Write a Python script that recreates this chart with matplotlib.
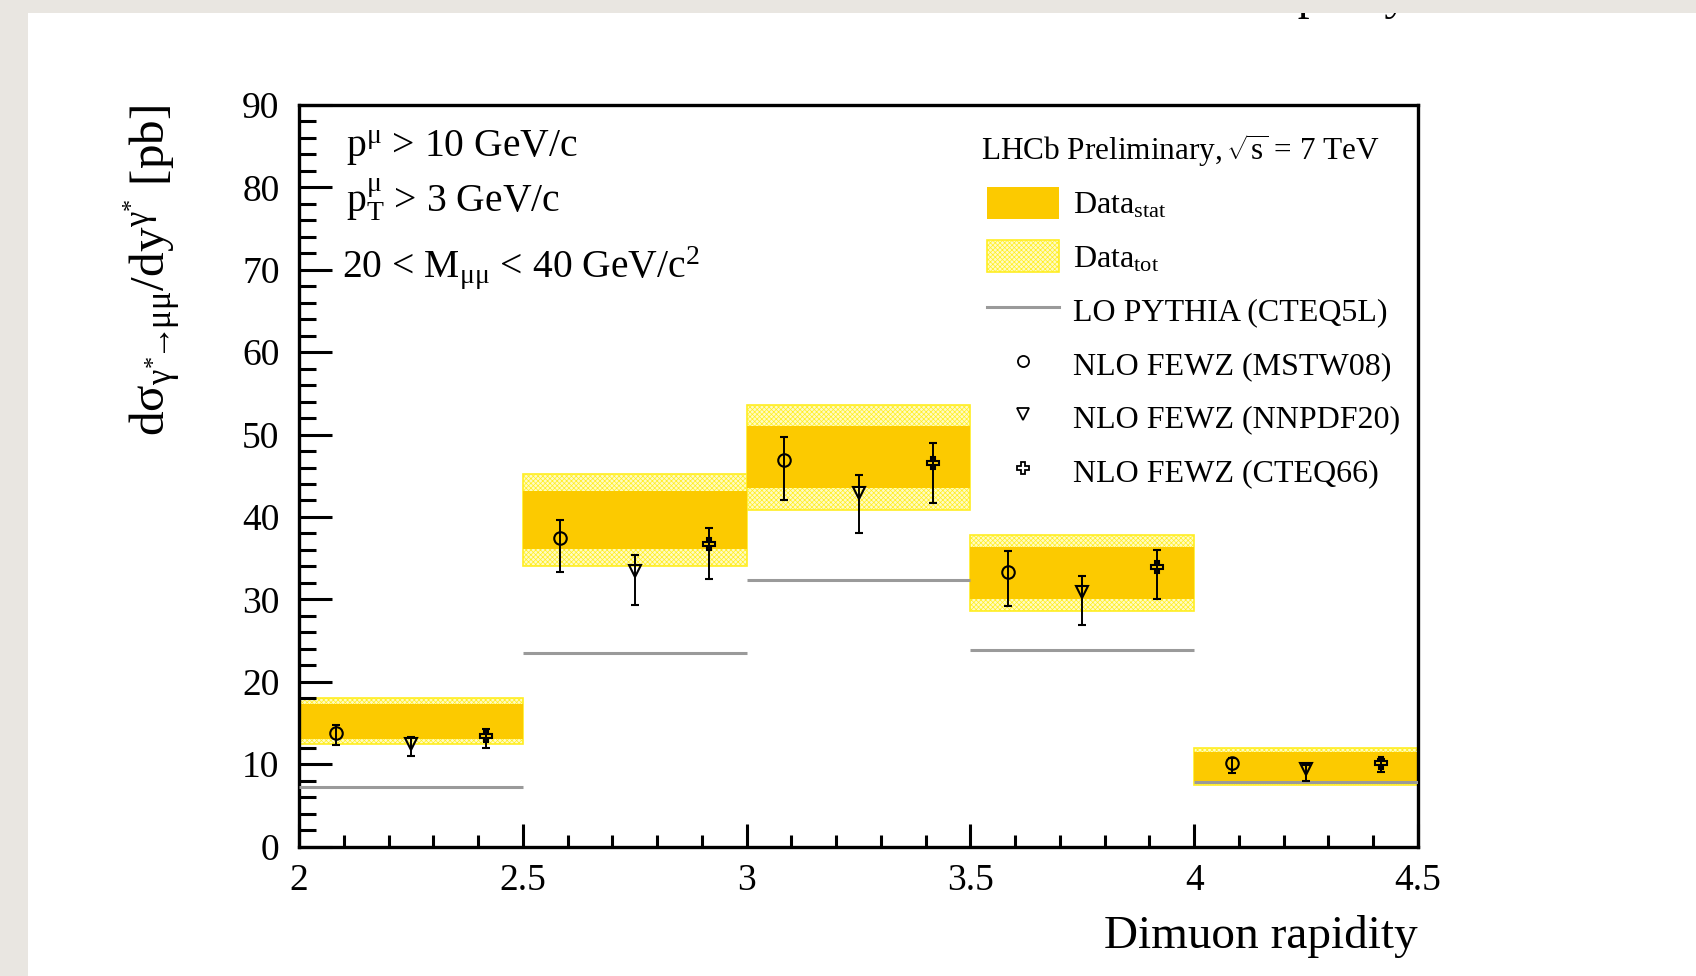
import numpy as np
import matplotlib
matplotlib.use("Agg")
import matplotlib.pyplot as plt
from matplotlib.patches import Patch, Rectangle
from matplotlib.lines import Line2D
from matplotlib.ticker import MultipleLocator, FuncFormatter

plt.rcParams['font.family'] = ['Liberation Serif', 'DejaVu Serif']
plt.rcParams['mathtext.fontset'] = 'custom'
plt.rcParams['mathtext.rm'] = 'Liberation Serif'
plt.rcParams['mathtext.it'] = 'Liberation Serif:italic'
plt.rcParams['mathtext.default'] = 'regular'
plt.rcParams['hatch.linewidth'] = 0.5

# rapidity bins
bin_lo = np.array([2.0, 2.5, 3.0, 3.5, 4.0])
bin_w = 0.5

# measured cross-section (pb) with stat and total uncertainties
data = np.array([15.2, 39.6, 47.25, 33.2, 9.7])
stat_err = np.array([2.1, 3.5, 3.75, 3.1, 1.8])
tot_err = np.array([2.8, 5.6, 6.35, 4.6, 2.2])

# LO PYTHIA (CTEQ5L)
lo_pythia = np.array([7.2, 23.5, 32.3, 23.9, 7.8])

# NLO FEWZ predictions: value, +err, -err
mstw = np.array([13.8, 37.4, 46.9, 33.3, 10.1])
mstw_up = np.array([1.0, 2.2, 2.8, 2.6, 0.7])
mstw_dn = np.array([1.5, 4.1, 4.8, 4.1, 1.2])

nnpdf = np.array([12.5, 33.4, 42.9, 30.9, 9.4])
nnpdf_up = np.array([0.8, 2.0, 2.2, 1.9, 0.5])
nnpdf_dn = np.array([1.5, 4.1, 4.9, 4.0, 1.4])

cteq = np.array([13.4, 36.7, 46.5, 33.9, 10.1])
cteq_up = np.array([0.9, 1.9, 2.5, 2.1, 0.5])
cteq_dn = np.array([1.5, 4.2, 4.8, 3.8, 1.1])

STAT_COLOR = '#fcca00'
TOT_FACE = '#fffbc4'
TOT_EDGE = '#ffee22'
TOT_HATCH = 'xxxxxxx'
LO_COLOR = '#9a9a9a'

fig = plt.figure(figsize=(16.96, 9.76), dpi=100)
fig.patch.set_facecolor('#e9e6e1')
panel = Rectangle((28 / 1696, 0), 1, 1 - 13 / 976, transform=fig.transFigure,
                  facecolor='white', edgecolor='none', zorder=-5)
fig.add_artist(panel)

# cut-off slide title fragment
t = fig.text(1261 / 1696, 1 - 9 / 976, 'rapidity', fontsize=34, va='baseline')
t.set_clip_path(panel)

ax = fig.add_axes([299 / 1696, 1 - 846.5 / 976, 1119 / 1696, 741.5 / 976])

# bands
ax.bar(bin_lo, 2 * tot_err, width=bin_w, bottom=data - tot_err, align='edge',
       facecolor=TOT_FACE, edgecolor=TOT_EDGE, hatch=TOT_HATCH, linewidth=1.2, zorder=1)
ax.bar(bin_lo, 2 * stat_err, width=bin_w, bottom=data - stat_err, align='edge',
       facecolor=STAT_COLOR, edgecolor='none', zorder=2)

# LO lines
ax.hlines(lo_pythia, bin_lo, bin_lo + bin_w, colors=LO_COLOR, linewidth=2.2, zorder=3)

# NLO points
mk = dict(ls='none', mfc='none', mec='black', ms=9, mew=1.5, ecolor='black',
          elinewidth=1.4, capsize=3, capthick=1.4, zorder=4)
ax.errorbar(bin_lo + bin_w / 6, mstw, yerr=[mstw_dn, mstw_up], marker='o', **mk)
ax.errorbar(bin_lo + bin_w / 2, nnpdf, yerr=[nnpdf_dn, nnpdf_up], marker='v', **mk)
ax.errorbar(bin_lo + 5 * bin_w / 6, cteq, yerr=[cteq_dn, cteq_up], marker='P', **mk)

ax.set_xlim(2, 4.5)
ax.set_ylim(0, 90)
ax.xaxis.set_major_locator(MultipleLocator(0.5))
ax.xaxis.set_minor_locator(MultipleLocator(0.1))
ax.yaxis.set_major_locator(MultipleLocator(10))
ax.yaxis.set_minor_locator(MultipleLocator(2))
ax.xaxis.set_major_formatter(FuncFormatter(lambda v, p: f'{v:g}'))

for s in ax.spines.values():
    s.set_linewidth(2.4)
ax.tick_params(which='both', direction='in', top=False, right=False, width=2.2, labelsize=27)
ax.tick_params(axis='y', which='major', length=24, pad=14)
ax.tick_params(axis='y', which='minor', length=12)
ax.tick_params(axis='x', which='major', length=16.5, pad=12)
ax.tick_params(axis='x', which='minor', length=8.6)

ax.set_xlabel('Dimuon rapidity', fontsize=34, ha='right')
ax.xaxis.set_label_coords(1.0, -0.093)
ax.set_ylabel(r'd$\sigma_{\gamma^{*}\!\!\rightarrow\!\!\mu\mu}$/dy$^{\gamma^{*}}$ [pb]',
              fontsize=35.5, ha='right')
ax.yaxis.set_label_coords(-0.1035, 1.0)

# selection cuts
ax.text(0.042, 0.930, r'p$^{\mu}$ > 10 GeV/c', transform=ax.transAxes, fontsize=28.5, va='baseline')
ax.text(0.042, 0.856, r'$p^{\mu}_{T}$ > 3 GeV/c', transform=ax.transAxes, fontsize=28.5, va='baseline')
ax.text(0.0384, 0.768, r'20 < M$_{\mu\mu}$ < 40 GeV/c$^{2}$', transform=ax.transAxes,
        fontsize=28.5, va='baseline')

# legend header
ax.text(0.6095, 0.926, r'LHCb Preliminary, $\!\sqrt{s}$ = 7 TeV', transform=ax.transAxes,
        fontsize=22.5, va='baseline')

handles = [
    Patch(facecolor=STAT_COLOR, edgecolor='none'),
    Patch(facecolor=TOT_FACE, edgecolor=TOT_EDGE, hatch=TOT_HATCH, linewidth=1.2),
    Line2D([], [], color=LO_COLOR, lw=2.2),
    Line2D([], [], ls='none', marker='o', mfc='none', mec='black', ms=8, mew=1.3),
    Line2D([], [], ls='none', marker='v', mfc='none', mec='black', ms=8, mew=1.3),
    Line2D([], [], ls='none', marker='P', mfc='none', mec='black', ms=8, mew=1.3),
]
labels = [r'Data$_{stat}$', r'Data$_{tot}$', 'LO PYTHIA (CTEQ5L)',
          'NLO FEWZ (MSTW08)', 'NLO FEWZ (NNPDF20)', 'NLO FEWZ (CTEQ66)']
ax.legend(handles, labels, loc='upper left', bbox_to_anchor=(0.615, 0.8895), frameon=False,
          fontsize=23, handlelength=2.25, handleheight=1.15, handletextpad=0.44,
          labelspacing=0.62, borderpad=0, borderaxespad=0)

fig.savefig('out.png', dpi=100, facecolor=fig.get_facecolor())
